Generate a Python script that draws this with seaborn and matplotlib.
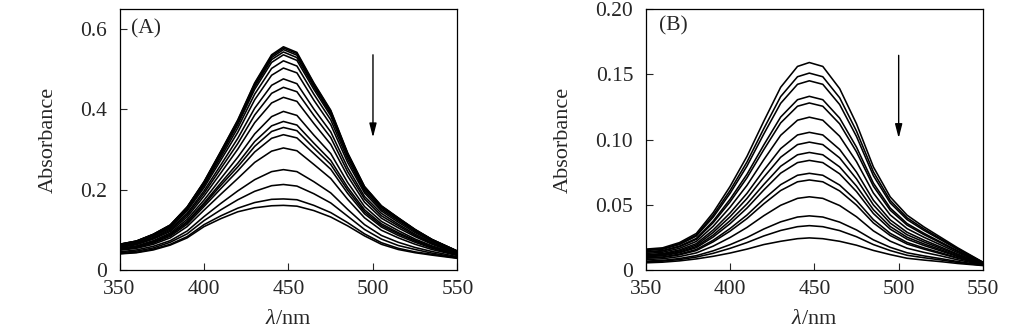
import numpy as np
import pandas as pd
import matplotlib
matplotlib.use("Agg")
import matplotlib.pyplot as plt
import seaborn as sns

# ---------------- data ----------------
wavelength = [350, 360, 370, 380, 390, 400, 410, 420, 430, 440, 447,
              455, 465, 475, 485, 495, 505, 515, 525, 535, 550]

spectra_A = [
    [0.064,0.072,0.089,0.112,0.157,0.220,0.296,0.374,0.466,0.536,0.556,0.542,0.466,0.398,0.292,0.208,0.160,0.130,0.101,0.076,0.047],
    [0.064,0.072,0.089,0.112,0.156,0.219,0.295,0.372,0.464,0.533,0.553,0.539,0.464,0.396,0.290,0.207,0.159,0.129,0.100,0.076,0.047],
    [0.064,0.072,0.088,0.111,0.156,0.218,0.293,0.370,0.460,0.529,0.549,0.535,0.460,0.393,0.289,0.206,0.158,0.129,0.100,0.075,0.047],
    [0.063,0.071,0.088,0.110,0.155,0.216,0.291,0.366,0.456,0.524,0.543,0.529,0.456,0.389,0.286,0.204,0.157,0.127,0.099,0.075,0.046],
    [0.063,0.071,0.087,0.109,0.153,0.214,0.287,0.362,0.450,0.517,0.536,0.522,0.450,0.384,0.283,0.202,0.155,0.126,0.098,0.074,0.046],
    [0.062,0.069,0.086,0.108,0.150,0.210,0.281,0.354,0.438,0.502,0.521,0.508,0.438,0.374,0.276,0.197,0.151,0.123,0.096,0.072,0.045],
    [0.061,0.068,0.084,0.105,0.147,0.205,0.274,0.343,0.424,0.485,0.503,0.491,0.423,0.362,0.268,0.192,0.147,0.119,0.093,0.071,0.045],
    [0.059,0.066,0.081,0.102,0.141,0.197,0.262,0.328,0.403,0.460,0.476,0.464,0.401,0.344,0.255,0.183,0.141,0.114,0.089,0.068,0.043],
    [0.058,0.065,0.079,0.099,0.137,0.191,0.253,0.315,0.386,0.440,0.455,0.444,0.385,0.330,0.245,0.177,0.135,0.110,0.086,0.066,0.042],
    [0.056,0.063,0.077,0.096,0.132,0.184,0.242,0.301,0.367,0.416,0.430,0.420,0.365,0.313,0.234,0.169,0.129,0.105,0.083,0.064,0.041],
    [0.054,0.060,0.073,0.092,0.126,0.174,0.228,0.281,0.339,0.382,0.395,0.385,0.336,0.290,0.218,0.158,0.121,0.098,0.077,0.060,0.040],
    [0.053,0.058,0.071,0.089,0.121,0.167,0.217,0.266,0.320,0.359,0.370,0.361,0.316,0.273,0.206,0.150,0.115,0.093,0.074,0.058,0.039],
    [0.052,0.057,0.069,0.087,0.118,0.163,0.211,0.257,0.308,0.345,0.355,0.347,0.304,0.263,0.199,0.145,0.111,0.090,0.072,0.056,0.038],
    [0.051,0.056,0.067,0.084,0.114,0.158,0.203,0.247,0.294,0.328,0.337,0.329,0.290,0.251,0.191,0.140,0.107,0.086,0.069,0.054,0.037],
    [0.049,0.054,0.064,0.080,0.108,0.149,0.189,0.228,0.268,0.296,0.304,0.297,0.263,0.228,0.176,0.130,0.099,0.080,0.064,0.051,0.036],
    [0.045,0.050,0.059,0.073,0.097,0.133,0.166,0.197,0.225,0.245,0.250,0.245,0.220,0.192,0.151,0.113,0.086,0.069,0.056,0.046,0.033],
    [0.043,0.047,0.055,0.069,0.090,0.123,0.150,0.175,0.196,0.210,0.213,0.209,0.190,0.167,0.134,0.101,0.077,0.061,0.051,0.042,0.031],
    [0.041,0.044,0.052,0.064,0.083,0.113,0.135,0.154,0.168,0.176,0.177,0.175,0.161,0.143,0.118,0.090,0.068,0.054,0.045,0.039,0.030],
    [0.040,0.043,0.050,0.062,0.080,0.108,0.128,0.145,0.155,0.160,0.161,0.159,0.148,0.132,0.110,0.085,0.064,0.051,0.043,0.037,0.029],
]

spectra_B = [
    [0.0160,0.0170,0.0210,0.0280,0.0440,0.0640,0.0870,0.1140,0.1400,0.1560,0.1590,0.1560,0.1390,0.1120,0.0790,0.0560,0.0420,0.0330,0.0250,0.0170,0.0060],
    [0.0154,0.0163,0.0202,0.0268,0.0420,0.0609,0.0827,0.1083,0.1329,0.1481,0.1509,0.1481,0.1320,0.1064,0.0752,0.0533,0.0400,0.0315,0.0239,0.0163,0.0058],
    [0.0149,0.0159,0.0195,0.0260,0.0405,0.0587,0.0796,0.1042,0.1277,0.1423,0.1450,0.1423,0.1268,0.1023,0.0723,0.0514,0.0386,0.0304,0.0231,0.0158,0.0057],
    [0.0140,0.0149,0.0183,0.0242,0.0375,0.0542,0.0733,0.0958,0.1172,0.1305,0.1331,0.1305,0.1164,0.0941,0.0666,0.0475,0.0356,0.0281,0.0214,0.0147,0.0055],
    [0.0136,0.0145,0.0178,0.0235,0.0363,0.0522,0.0706,0.0922,0.1127,0.1255,0.1280,0.1255,0.1120,0.0905,0.0642,0.0458,0.0344,0.0271,0.0207,0.0142,0.0054],
    [0.0127,0.0136,0.0166,0.0219,0.0335,0.0481,0.0648,0.0845,0.1032,0.1148,0.1171,0.1148,0.1025,0.0830,0.0590,0.0422,0.0317,0.0251,0.0192,0.0133,0.0052],
    [0.0118,0.0126,0.0154,0.0202,0.0307,0.0437,0.0587,0.0764,0.0930,0.1035,0.1055,0.1035,0.0924,0.0750,0.0535,0.0384,0.0289,0.0229,0.0176,0.0122,0.0050],
    [0.0112,0.0120,0.0146,0.0191,0.0288,0.0408,0.0548,0.0711,0.0864,0.0961,0.0980,0.0961,0.0859,0.0698,0.0499,0.0359,0.0270,0.0215,0.0166,0.0116,0.0048],
    [0.0106,0.0114,0.0138,0.0180,0.0268,0.0378,0.0506,0.0655,0.0795,0.0883,0.0901,0.0883,0.0790,0.0643,0.0462,0.0333,0.0251,0.0200,0.0155,0.0108,0.0047],
    [0.0101,0.0109,0.0132,0.0171,0.0253,0.0355,0.0474,0.0613,0.0742,0.0823,0.0840,0.0823,0.0737,0.0601,0.0433,0.0313,0.0236,0.0188,0.0146,0.0103,0.0045],
    [0.0094,0.0100,0.0122,0.0157,0.0228,0.0318,0.0421,0.0543,0.0654,0.0726,0.0741,0.0726,0.0651,0.0532,0.0386,0.0281,0.0211,0.0169,0.0132,0.0094,0.0044],
    [0.0090,0.0096,0.0116,0.0149,0.0216,0.0298,0.0394,0.0507,0.0609,0.0676,0.0690,0.0676,0.0606,0.0497,0.0361,0.0264,0.0199,0.0160,0.0125,0.0090,0.0043],
    [0.0080,0.0086,0.0103,0.0131,0.0183,0.0249,0.0326,0.0416,0.0496,0.0549,0.0561,0.0549,0.0494,0.0408,0.0300,0.0221,0.0167,0.0135,0.0108,0.0078,0.0040],
    [0.0068,0.0074,0.0088,0.0110,0.0147,0.0194,0.0249,0.0314,0.0369,0.0406,0.0415,0.0406,0.0367,0.0307,0.0231,0.0174,0.0132,0.0108,0.0087,0.0065,0.0037],
    [0.0062,0.0068,0.0080,0.0099,0.0128,0.0166,0.0210,0.0261,0.0303,0.0332,0.0340,0.0332,0.0302,0.0255,0.0195,0.0149,0.0113,0.0094,0.0077,0.0058,0.0036],
    [0.0055,0.0060,0.0070,0.0085,0.0105,0.0130,0.0160,0.0195,0.0220,0.0240,0.0246,0.0240,0.0220,0.0190,0.0150,0.0118,0.0090,0.0076,0.0064,0.0050,0.0034],
]

yticks_A = [0, 0.2, 0.4, 0.6]
yticklabels_A = ["0", "0.2", "0.4", "0.6"]
yticks_B = [0, 0.05, 0.10, 0.15, 0.20]
yticklabels_B = ["0", "0.05", "0.10", "0.15", "0.20"]
xticks = [350, 400, 450, 500, 550]
panel_labels = ["(A)", "(B)"]

# ---------------- style ----------------
sns.set_style("white")
plt.rcParams["font.family"] = ["Liberation Serif", "DejaVu Serif"]
plt.rcParams["mathtext.fontset"] = "custom"
plt.rcParams["mathtext.rm"] = "Liberation Serif"
plt.rcParams["mathtext.it"] = "Liberation Serif:italic"


def long_frame(spectra):
    rows = []
    for i, s in enumerate(spectra):
        for w, a in zip(wavelength, s):
            rows.append((i, w, a))
    return pd.DataFrame(rows, columns=["curve", "wavelength", "absorbance"])


fig = plt.figure(figsize=(10.25, 3.34), dpi=100)
axA = fig.add_axes([0.1166, 0.1916, 0.3297, 0.7814])
axB = fig.add_axes([0.6300, 0.1916, 0.3290, 0.7814])

configs = [
    (axA, spectra_A, (0, 0.65), yticks_A, yticklabels_A, panel_labels[0],
     (357, 0.600), (0.536, 0.33)),
    (axB, spectra_B, (0, 0.20), yticks_B, yticklabels_B, panel_labels[1],
     (358, 0.187), (0.1645, 0.101)),
]

for ax, spectra, ylim, yt, ytl, lab, labpos, arrow in configs:
    df = long_frame(spectra)
    sns.lineplot(data=df, x="wavelength", y="absorbance", units="curve",
                 estimator=None, color="black", linewidth=1.15, ax=ax,
                 legend=False)
    for ln in ax.lines:
        ln.set_solid_joinstyle("round")
    ax.set_xlim(350, 550)
    ax.set_ylim(*ylim)
    ax.set_xticks(xticks)
    ax.set_xticklabels([str(t) for t in xticks])
    ax.set_yticks(yt)
    ax.set_yticklabels(ytl)
    ax.tick_params(axis="both", direction="in", length=5, width=0.8,
                   labelsize=15.5, left=True, bottom=True)
    ax.tick_params(axis="y", pad=9)
    ax.tick_params(axis="x", pad=7)
    for sp in ax.spines.values():
        sp.set_linewidth(0.9)
        sp.set_color("black")
    ax.set_xlabel(r"$\lambda$/nm", fontsize=16, labelpad=8)
    ax.set_ylabel("Absorbance", fontsize=16, labelpad=16)
    ax.text(labpos[0], labpos[1], lab, fontsize=15.5, ha="left", va="center")
    ax.annotate("", xy=(500, arrow[1]), xytext=(500, arrow[0]),
                arrowprops=dict(arrowstyle="-|>,head_length=0.7,head_width=0.18",
                                color="black", lw=1.0,
                                mutation_scale=12, shrinkA=0, shrinkB=0))

fig.savefig("out.png", dpi=100)
